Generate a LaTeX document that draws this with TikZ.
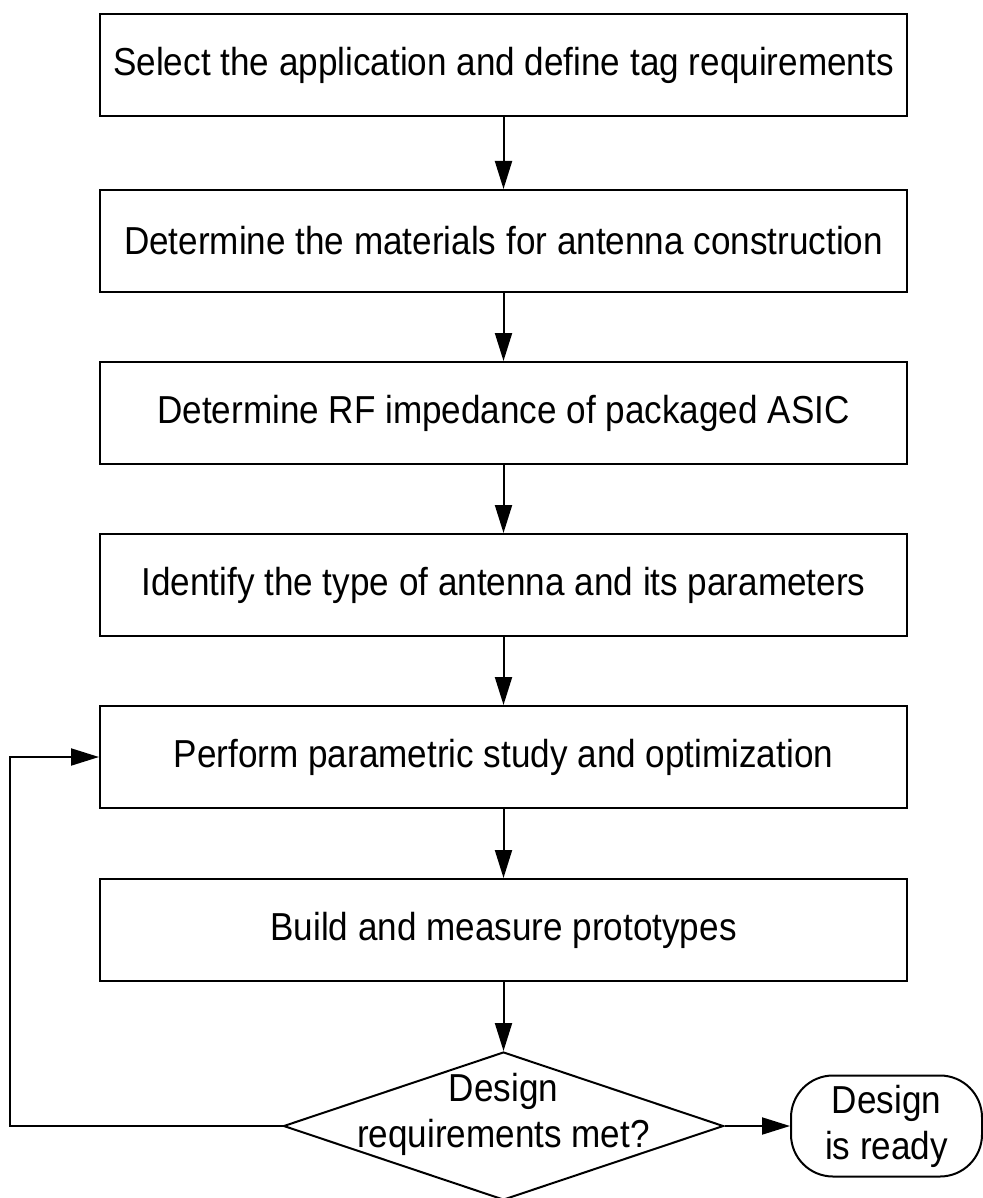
\documentclass[tikz,border=0pt]{standalone}
\usepackage{fontspec}
\setmainfont{Liberation Sans}[FakeStretch=0.9]
\usetikzlibrary{shapes.geometric,arrows.meta}
\begin{document}
\begin{tikzpicture}[x=1pt,y=-1pt,
  txt/.style={font=\fontsize{39}{46}\selectfont},
  box/.style={draw,line width=2pt,minimum width=807pt,minimum height=102pt,inner sep=0pt,txt},
  decision/.style={draw,diamond,line width=2pt,minimum width=440pt,minimum height=148pt,inner sep=0pt},
  term/.style={draw,line width=2pt,rounded corners=42pt,minimum width=191pt,minimum height=101pt,inner sep=0pt,align=center,txt},
  arr/.style={line width=2pt,-{Triangle[length=28pt,width=17pt]}}]
\useasboundingbox (0,0) rectangle (982,1198);
\fill[white] (0,0) rectangle (982,1198);
\node[box] (b1) at (503.5,65) {Select the application and define tag requirements};
\node[box] (b2) at (503.5,241) {Determine the materials for antenna construction};
\node[box] (b3) at (503.5,413) {Determine RF impedance of packaged ASIC};
\node[box] (b4) at (503.5,585) {Identify the type of antenna and its parameters};
\node[box] (b5) at (503.5,757) {Perform parametric study and optimization};
\node[box] (b6) at (503.5,930) {Build and measure prototypes};
\node[decision] (d) at (503.5,1126) {};
\node[txt,align=center] (dt) at (503.5,1114) {Design\\requirements met?};
\node[term] (t) at (886.5,1126) {Design\\is ready};
\coordinate (lb) at (10,1126);
\coordinate (lt) at (10,757);
\draw[arr] (b1) -- (b2);
\draw[arr] (b2) -- (b3);
\draw[arr] (b3) -- (b4);
\draw[arr] (b4) -- (b5);
\draw[arr] (b5) -- (b6);
\draw[arr] (b6.south) -- (d.north);
\draw[arr] (d.east) -- (t.west);
\draw[arr] (d.west) -- (lb) -- (lt) -- (b5.west);
\end{tikzpicture}
\end{document}
